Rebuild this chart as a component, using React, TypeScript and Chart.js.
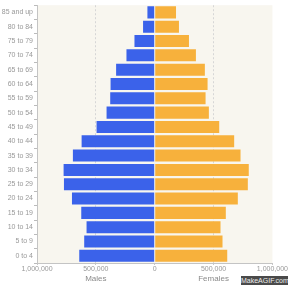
import React, { useEffect, useRef } from "react";
import { Chart, registerables } from "chart.js";

Chart.register(...registerables);

const categories = [
  "85 and up", "80 to 84", "75 to 79", "70 to 74", "65 to 69", "60 to 64",
  "55 to 59", "50 to 54", "45 to 49", "40 to 44", "35 to 39", "30 to 34",
  "25 to 29", "20 to 24", "15 to 19", "10 to 14", "5 to 9", "0 to 4",
];

const males = [
  62000, 99000, 172000, 240000, 328000, 375000, 378000, 409000, 494000,
  621000, 695000, 774000, 771000, 703000, 624000, 579000, 599000, 641000,
];

const females = [
  181000, 206000, 291000, 350000, 426000, 449000, 432000, 460000, 548000,
  675000, 729000, 799000, 791000, 706000, 604000, 559000, 576000, 616000,
];

const xTicks = [-1000000, -500000, 0, 500000, 1000000];
const sideTitles = [
  { label: "Males", at: -500000 },
  { label: "Females", at: 500000 },
];

const FONT = "'Liberation Sans', Arial, sans-serif";

export default function App() {
  const ref = useRef<HTMLCanvasElement>(null);

  useEffect(() => {
    document.body.style.margin = "0";
    const canvas = ref.current;
    if (!canvas) return;

    const bgPlugin = {
      id: "plotBg",
      beforeDraw(chart: any) {
        const { ctx, chartArea } = chart;
        ctx.save();
        ctx.fillStyle = "#f8f6ef";
        ctx.fillRect(chartArea.left, chartArea.top, chartArea.right - chartArea.left, chartArea.bottom - chartArea.top);
        ctx.restore();
      },
    };

    const titlesPlugin = {
      id: "sideTitles",
      afterDraw(chart: any) {
        const { ctx } = chart;
        const xs = chart.scales.x;
        ctx.save();
        ctx.font = `8px ${FONT}`;
        ctx.fillStyle = "#8a8a8a";
        ctx.textAlign = "center";
        ctx.textBaseline = "middle";
        sideTitles.forEach((t) => {
          ctx.fillText(t.label, xs.getPixelForValue(t.at), 279);
        });
        ctx.restore();
      },
    };

    const chart = new Chart(canvas, {
      type: "bar",
      data: {
        labels: categories,
        datasets: [
          {
            label: "Males",
            data: males.map((v) => -v),
            backgroundColor: "#3b62ea",
            barPercentage: 0.84,
            categoryPercentage: 1,
          },
          {
            label: "Females",
            data: females,
            backgroundColor: "#f7b13c",
            barPercentage: 0.84,
            categoryPercentage: 1,
          },
        ],
      },
      options: {
        indexAxis: "y",
        animation: false,
        responsive: false,
        maintainAspectRatio: false,
        layout: { padding: { top: 5, right: 15, left: 0, bottom: 0 } },
        plugins: {
          legend: { display: false },
          tooltip: { enabled: false },
        },
        scales: {
          x: {
            stacked: true,
            min: -1000000,
            max: 1000000,
            afterBuildTicks(scale: any) {
              scale.ticks = xTicks.map((v) => ({ value: v }));
            },
            afterFit(scale: any) {
              scale.height = 22;
            },
            ticks: {
              font: { family: FONT, size: 7 },
              color: "#999",
              padding: 0,
              maxRotation: 0,
              callback: (v: any) => Math.abs(Number(v)).toLocaleString("en-US"),
            },
            grid: {
              color: (c: any) => (c.tick && Math.abs(c.tick.value) === 500000 ? "#d6d6d6" : "rgba(0,0,0,0)"),
              tickColor: "#c8c8c8",
              tickLength: 2,
              lineWidth: 1,
            },
            border: { display: true, color: "#c4c4c4", dash: [2, 2] },
          },
          y: {
            stacked: true,
            afterFit(scale: any) {
              scale.width = 37;
            },
            ticks: {
              font: { family: FONT, size: 7 },
              color: "#999",
              padding: 1,
            },
            grid: {
              display: true,
              drawOnChartArea: false,
              tickLength: 3,
              tickColor: "#bbb",
            },
            border: { display: true, color: "#c4c4c4" },
          },
        },
      },
      plugins: [bgPlugin, titlesPlugin],
    } as any);

    return () => chart.destroy();
  }, []);

  return (
    <div style={{ position: "relative", width: 288, height: 285 }}>
      <canvas ref={ref} width={288} height={285} style={{ display: "block" }} />
      <div
        style={{
          position: "absolute",
          left: 241,
          top: 276,
          width: 47,
          height: 9,
          background: "#4a4a4a",
          color: "#eee",
          font: `7px ${FONT}`,
          lineHeight: "9px",
          textAlign: "center",
          whiteSpace: "nowrap",
          overflow: "hidden",
        }}
      >
        MakeAGIF.com
      </div>
    </div>
  );
}
